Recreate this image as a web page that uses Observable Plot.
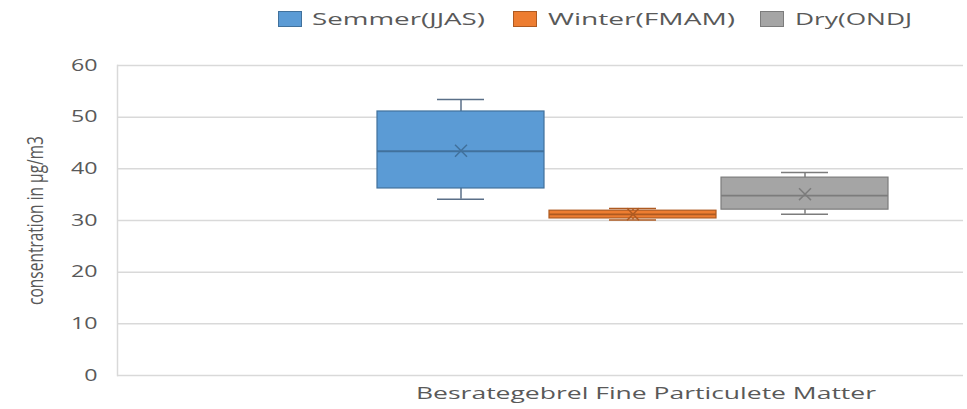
<!DOCTYPE html>
<html><head><meta charset="utf-8">
<script src="https://cdn.jsdelivr.net/npm/d3@7"></script>
<script src="https://cdn.jsdelivr.net/npm/@observablehq/plot@0.6"></script>
<style>
body{margin:0;background:#fff;font-family:"Open Sans",sans-serif;}
#legend{position:relative;height:38px;width:967px;}
.sw{position:absolute;top:11px;width:24px;height:16px;box-sizing:border-box;border:1px solid;}
.lt{position:absolute;top:8px;font-size:16px;color:#595959;white-space:nowrap;transform-origin:0 50%;line-height:22px}
</style></head><body>
<div id="legend"></div><div id="chart"></div>
<script>
// Data
const series  = ["Semmer(JJAS)", "Winter(FMAM)", "Dry(ONDJ"];
const mins    = [34.1, 30.1, 31.2];
const q1s     = [36.2, 30.4, 32.1];
const medians = [43.4, 31.2, 34.8];
const q3s     = [51.1, 31.9, 38.3];
const maxs    = [53.4, 32.3, 39.3];
const means   = [43.5, 31.2, 35.1];
const yTicks  = [0, 10, 20, 30, 40, 50, 60];
const xLabel  = "Besrategebrel Fine Particulete Matter";
const yLabel  = "consentration in µg/m3";

// Styles
const fills   = ["#5B9BD5", "#ED7D31", "#A5A5A5"];
const strokes = ["#41719C", "#AE5A21", "#7C7C7C"];
const whisk   = ["#5A6F88", "#AE5A21", "#7C7C7C"];

const data = series.map((s, i) => ({
  series: s, min: mins[i], q1: q1s[i], median: medians[i], q3: q3s[i], max: maxs[i], mean: means[i],
  fill: fills[i], stroke: strokes[i], whisk: whisk[i]
}));

// Legend
const legend = document.getElementById("legend");
const swLeft = [278, 513, 760], txLeft = [312, 548, 795], txW = [173, 187, 117];
series.forEach((s, i) => {
  const sw = document.createElement("div");
  sw.className = "sw"; sw.style.left = swLeft[i] + "px";
  sw.style.background = fills[i]; sw.style.borderColor = strokes[i];
  legend.appendChild(sw);
  const t = document.createElement("span");
  t.className = "lt"; t.style.left = txLeft[i] + "px"; t.textContent = s;
  legend.appendChild(t);
  const w = t.getBoundingClientRect().width;
  t.style.transform = `scaleX(${txW[i] / w})`;
});

const plot = Plot.plot({
  width: 967, height: 371,
  marginLeft: 117, marginRight: 4, marginTop: 27, marginBottom: 34,
  style: {fontFamily: "Open Sans", fontSize: "16px", color: "#595959", background: "#fff"},
  x: {domain: series, range: [376, 889], paddingInner: 0.03, paddingOuter: 0, axis: null},
  y: {domain: [0, 60], ticks: yTicks, tickSize: 0, tickPadding: 20, label: null},
  marks: [
    Plot.ruleY(yTicks, {stroke: "#d9d9d9", strokeWidth: 1.5}),
    Plot.frame({anchor: "left", stroke: "#d9d9d9", strokeWidth: 1.5}),
    Plot.ruleX(data, {x: "series", y1: "min", y2: "max", stroke: "whisk", strokeWidth: 1.5}),
    Plot.tickY(data, {x: "series", y: "min", stroke: "whisk", strokeWidth: 1.5, insetLeft: 60, insetRight: 60}),
    Plot.tickY(data, {x: "series", y: "max", stroke: "whisk", strokeWidth: 1.5, insetLeft: 60, insetRight: 60}),
    Plot.barY(data, {x: "series", y1: "q1", y2: "q3", fill: "fill", stroke: "stroke", strokeWidth: 1.2}),
    Plot.tickY(data, {x: "series", y: "median", stroke: "stroke", strokeWidth: 1.8}),
    Plot.dot(data, {x: "series", y: "mean", symbol: "times", r: 5.5, stroke: "stroke", strokeWidth: 1.5}),
    Plot.text([xLabel], {frameAnchor: "bottom", x: () => series[1], dx: 13, dy: 23, fill: "#595959", fontSize: 16, text: d => d}),
    Plot.text([yLabel], {frameAnchor: "left", textAnchor: "middle", dx: -82, rotate: -90, fill: "#595959", fontSize: 15.5, text: d => d})
  ]
});
document.getElementById("chart").appendChild(plot);

// horizontal stretch of texts to match reference
plot.querySelectorAll("text").forEach(t => {
  const s = t.textContent;
  if (/^\d+$/.test(s)) {
    const w = t.getComputedTextLength();
    t.setAttribute("textLength", w * 1.45);
    t.setAttribute("lengthAdjust", "spacingAndGlyphs");
  } else if (s === xLabel) {
    t.setAttribute("textLength", 460);
    t.setAttribute("lengthAdjust", "spacingAndGlyphs");
  } else if (s === yLabel) {
    const tr = t.getAttribute("transform") || "";
    t.setAttribute("transform", tr + " scale(1,1.45)");
  }
});
</script>
</body></html>
